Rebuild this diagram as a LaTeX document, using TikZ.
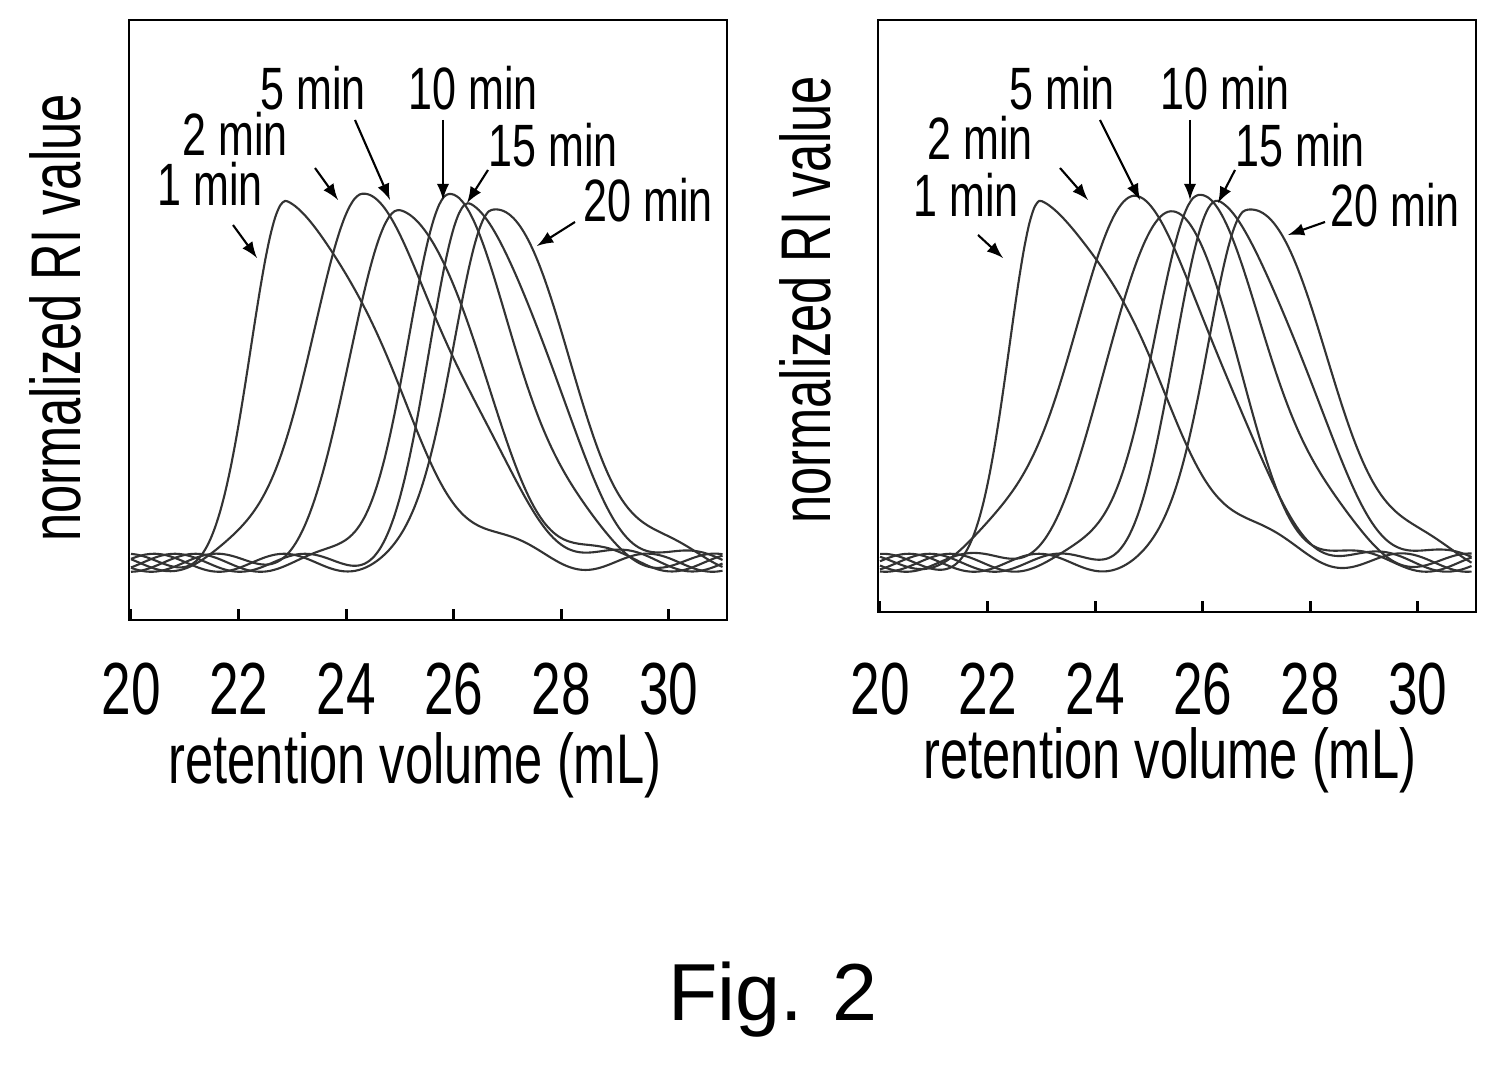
\documentclass[tikz,border=0pt]{standalone}
\usepackage{fontspec}
\setmainfont{Liberation Sans}
\newfontfamily\narrowfont[FakeStretch=0.72]{Liberation Sans}
\usetikzlibrary{positioning,calc}
\tikzset{
  curve/.style={semithick, black!80, smooth},
  lbl/.style={font=\narrowfont\fontsize{17}{19}\selectfont, inner sep=1pt},
  pointer/.style={semithick, -latex},
}
% peak: #1 centre, #2 left width, #3 right width, #4 phase of baseline ripple
\newcommand{\peakplot}[4]{%
  \draw[curve] plot[domain=20:31, samples=120]
    (\x, {exp(-((\x-#1)/(\x<#1?#2:#3))^2) + 0.025*sin(deg(2.6*\x+#4)) + 0.02});}
\begin{document}
\begin{tikzpicture}[x=0.01cm, y=-0.01cm]
\useasboundingbox (0,0) rectangle (1499,1068);
% left panel
\draw[thick] (129,20) rectangle (727,620);
\begin{scope}[shift={(131,570)}, x=0.5375cm, y=3.6cm, xshift=-10.75cm]
  \peakplot{22.9}{0.9}{2.4}{0}
  \peakplot{24.3}{1.4}{2.3}{1}
  \peakplot{25.0}{1.2}{1.9}{2}
  \peakplot{25.9}{1.1}{1.8}{3}
  \peakplot{26.3}{1.0}{1.9}{4}
  \peakplot{26.7}{1.0}{1.9}{5}
  \foreach \v in {20,22,...,30} {
    \draw[thick] (\v,-0.139) -- ++(0,0.03);
    \node[lbl, font=\narrowfont\fontsize{21}{23}\selectfont] (tl\v) at (\v,-0.33) {\v};
  }
\end{scope}
\node[lbl, rotate=90, font=\narrowfont\fontsize{20}{22}\selectfont] (ylabA) at (55,318) {normalized RI value};
\node[lbl, font=\narrowfont\fontsize{20}{22}\selectfont] (xlabA) at (415,765) {retention volume (mL)};
\node[lbl] (a1) at (210,184) {1 min};
\node[lbl] (a2) at (235,134) {2 min};
\node[lbl] (a5) at (313,88) {5 min};
\node[lbl] (a10) at (473,88) {10 min};
\node[lbl] (a15) at (553,145) {15 min};
\node[lbl] (a20) at (648,200) {20 min};
\coordinate (a1s) at (233,225); \coordinate (a1e) at (257,258);
\coordinate (a2s) at (315,168); \coordinate (a2e) at (338,200);
\coordinate (a5s) at (355,120); \coordinate (a5e) at (390,200);
\coordinate (a10s) at (443,120); \coordinate (a10e) at (443,200);
\coordinate (a15s) at (488,170); \coordinate (a15e) at (467,203);
\coordinate (a20s) at (575,222); \coordinate (a20e) at (537,246);
\foreach \n in {1,2,5,10,15,20} \draw[pointer] (a\n s) -- (a\n e);
% right panel
\draw[thick] (878,20) rectangle (1476,612);
\begin{scope}[shift={(880,570)}, x=0.5375cm, y=3.6cm, xshift=-10.75cm]
  \peakplot{23.0}{0.8}{2.6}{6}
  \peakplot{24.8}{1.8}{2.0}{7}
  \peakplot{25.4}{1.5}{1.6}{8}
  \peakplot{25.9}{1.2}{1.9}{9}
  \peakplot{26.3}{1.1}{2.0}{10}
  \peakplot{26.8}{1.0}{2.0}{11}
  \foreach \v in {20,22,...,30} {
    \draw[thick] (\v,-0.117) -- ++(0,0.03);
    \node[lbl, font=\narrowfont\fontsize{21}{23}\selectfont] (tr\v) at (\v,-0.33) {\v};
  }
\end{scope}
\node[lbl, rotate=90, font=\narrowfont\fontsize{20}{22}\selectfont] (ylabB) at (805,300) {normalized RI value};
\node[lbl, font=\narrowfont\fontsize{20}{22}\selectfont] (xlabB) at (1170,760) {retention volume (mL)};
\node[lbl] (b1) at (966,195) {1 min};
\node[lbl] (b2) at (980,138) {2 min};
\node[lbl] (b5) at (1062,88) {5 min};
\node[lbl] (b10) at (1225,88) {10 min};
\node[lbl] (b15) at (1300,145) {15 min};
\node[lbl] (b20) at (1395,205) {20 min};
\coordinate (b1s) at (978,235); \coordinate (b1e) at (1003,258);
\coordinate (b2s) at (1060,168); \coordinate (b2e) at (1088,200);
\coordinate (b5s) at (1100,120); \coordinate (b5e) at (1140,200);
\coordinate (b10s) at (1190,120); \coordinate (b10e) at (1190,200);
\coordinate (b15s) at (1235,170); \coordinate (b15e) at (1218,203);
\coordinate (b20s) at (1325,222); \coordinate (b20e) at (1288,235);
\foreach \n in {1,2,5,10,15,20} \draw[pointer] (b\n s) -- (b\n e);
\node[font=\fontsize{23}{27}\selectfont] (fig) at (773,1000) {Fig. 2};
\end{tikzpicture}
\end{document}
